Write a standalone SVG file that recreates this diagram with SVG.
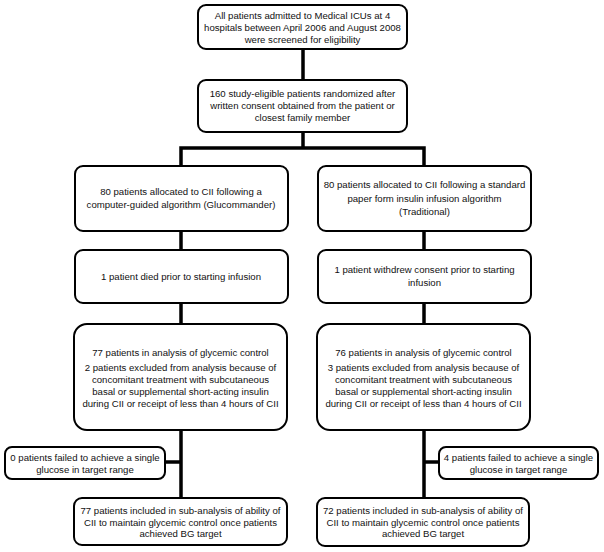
<svg xmlns="http://www.w3.org/2000/svg" width="604" height="552" viewBox="0 0 604 552">
<style>
.box{fill:#fff;stroke:#000;stroke-width:2}
.t{font-family:"Liberation Sans",Arial,sans-serif;font-size:9.6px;fill:#111;text-anchor:middle;dominant-baseline:central}
.c{stroke:#000;stroke-width:3.5;fill:none}
</style>
<rect width="604" height="552" fill="#fff"/>
<g id="connectors">
<path class="c" d="M303 49V80M303 132V148M181 148H425M181 146.3V167M424 146.3V167"/>
<path class="c" d="M181 231V250M181 303V324M181 430V498M181 462H165"/>
<path class="c" d="M424 231V250M424 303V324M424 430V498M424 462H439"/>
</g>
<g id="n1"><rect class="box" x="198" y="5" width="209" height="44" rx="8"/>
<text class="t" x="302.5" y="15">All patients admitted to Medical ICUs at 4</text>
<text class="t" x="302.5" y="27">hospitals between April 2006 and August 2008</text>
<text class="t" x="302.5" y="39">were screened for eligibility</text></g>
<g id="n2"><rect class="box" x="198" y="80" width="209" height="52" rx="8"/>
<text class="t" x="302.5" y="93">160 study-eligible patients randomized after</text>
<text class="t" x="302.5" y="105">written consent obtained from the patient or</text>
<text class="t" x="302.5" y="117">closest family member</text></g>
<g id="n3"><rect class="box" x="75" y="166" width="213" height="65" rx="8"/>
<text class="t" x="181" y="191.5">80 patients allocated to CII following a</text>
<text class="t" x="181" y="204">computer-guided algorithm (Glucommander)</text></g>
<g id="n4"><rect class="box" x="318" y="166" width="213" height="65" rx="8"/>
<text class="t" x="424.5" y="184.5">80 patients allocated to CII following a standard</text>
<text class="t" x="424.5" y="198">paper form insulin infusion algorithm</text>
<text class="t" x="424.5" y="211.5">(Traditional)</text></g>
<g id="n5"><rect class="box" x="75" y="250" width="213" height="53" rx="8"/>
<text class="t" x="181" y="276">1 patient died prior to starting infusion</text></g>
<g id="n6"><rect class="box" x="318" y="250" width="213" height="53" rx="8"/>
<text class="t" x="424.5" y="269">1 patient withdrew consent prior to starting</text>
<text class="t" x="424.5" y="282">infusion</text></g>
<g id="n7"><rect class="box" x="74" y="324" width="213" height="106" rx="13"/>
<text class="t" x="180.5" y="352">77 patients in analysis of glycemic control</text>
<text class="t" x="180.5" y="367">2 patients excluded from analysis because of</text>
<text class="t" x="180.5" y="379">concomitant treatment with subcutaneous</text>
<text class="t" x="180.5" y="391">basal or supplemental short-acting insulin</text>
<text class="t" x="180.5" y="403">during CII or receipt of less than 4 hours of CII</text></g>
<g id="n8"><rect class="box" x="317" y="324" width="213" height="106" rx="13"/>
<text class="t" x="423.5" y="352">76 patients in analysis of glycemic control</text>
<text class="t" x="423.5" y="367">3 patients excluded from analysis because of</text>
<text class="t" x="423.5" y="379">concomitant treatment with subcutaneous</text>
<text class="t" x="423.5" y="391">basal or supplemental short-acting insulin</text>
<text class="t" x="423.5" y="403">during CII or receipt of less than 4 hours of CII</text></g>
<g id="n9"><rect class="box" x="5" y="447" width="160" height="32" rx="7"/>
<text class="t" x="85" y="457">0 patients failed to achieve a single</text>
<text class="t" x="85" y="469">glucose in target range</text></g>
<g id="n10"><rect class="box" x="439" y="447" width="159" height="32" rx="7"/>
<text class="t" x="518.5" y="457">4 patients failed to achieve a single</text>
<text class="t" x="518.5" y="469">glucose in target range</text></g>
<g id="n11"><rect class="box" x="74" y="498" width="213" height="47" rx="8"/>
<text class="t" x="180.5" y="510">77 patients included in sub-analysis of ability of</text>
<text class="t" x="180.5" y="522">CII to maintain glycemic control once patients</text>
<text class="t" x="180.5" y="533.5">achieved BG target</text></g>
<g id="n12"><rect class="box" x="317" y="498" width="212" height="48" rx="8"/>
<text class="t" x="423" y="510">72 patients included in sub-analysis of ability of</text>
<text class="t" x="423" y="522">CII to maintain glycemic control once patients</text>
<text class="t" x="423" y="533.5">achieved BG target</text></g>
</svg>
